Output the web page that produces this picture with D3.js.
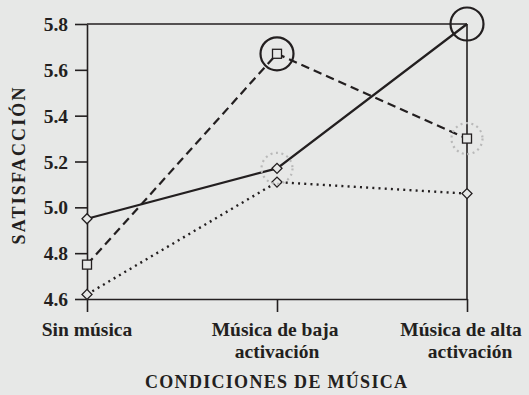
<!DOCTYPE html>
<html>
<head>
<meta charset="utf-8">
<script src="https://cdn.jsdelivr.net/npm/d3@7"></script>
<style>
  body { margin: 0; background: #e7e8e7; }
  svg { display: block; }
</style>
</head>
<body>
<div id="app"></div>
<script>
// data
const categories = ['Sin música', 'Música de baja activación', 'Música de alta activación']
const yTicks = [4.6, 4.8, 5.0, 5.2, 5.4, 5.6, 5.8]
const solidValues = [4.95, 5.17, 5.80]
const dashedValues = [4.75, 5.67, 5.30]
const dottedValues = [4.62, 5.11, 5.06]
// circled points: [series, category index]
const boldCircles = [['dashed', 1], ['solid', 2]]
const greyCircles = [['solid', 1], ['dashed', 2]]

const W = 529, H = 395
const FONT = '"Liberation Serif", "Times New Roman", serif'
const INK = '#231f20'
const BG = '#e7e8e7'
const svg = d3.select('#app').append('svg').attr('width', W).attr('height', H)

const x = d3.scalePoint().domain(categories).range([87, 467])
const y = d3.scaleLinear().domain([4.6, 5.8]).range([299, 24])

const series = {
  solid: { values: solidValues, dash: null, marker: 'diamond' },
  dashed: { values: dashedValues, dash: '8.5,5', marker: 'square' },
  dotted: { values: dottedValues, dash: '2,4.2', marker: 'diamond' }
}

const txt = sel => sel.style('font-family', FONT).style('font-weight', 'bold').attr('fill', INK)

// frame: top and right lines
svg.append('line').attr('x1', x.range()[0]).attr('x2', x.range()[1]).attr('y1', y(5.8)).attr('y2', y(5.8))
  .attr('stroke', INK).attr('stroke-width', 1.6)
svg.append('line').attr('x1', x.range()[1]).attr('x2', x.range()[1]).attr('y1', y(5.8)).attr('y2', y(4.6))
  .attr('stroke', INK).attr('stroke-width', 1.6)

// y axis
const yAxis = svg.append('g').attr('transform', 'translate(87,0)')
  .call(d3.axisLeft(y).tickValues(yTicks).tickFormat(d3.format('.1f')).tickSize(12).tickPadding(7).tickSizeOuter(0))
yAxis.select('.domain').attr('stroke', INK).attr('stroke-width', 1.6)
yAxis.selectAll('.tick line').attr('stroke', INK).attr('stroke-width', 1.6)
yAxis.selectAll('.tick text').call(txt).style('font-size', '19.5px').attr('dy', '0.34em')

// x axis
const xAxis = svg.append('g').attr('transform', 'translate(0,299)')
  .call(d3.axisBottom(x).tickSize(13).tickSizeOuter(0).tickFormat(''))
xAxis.select('.domain').attr('stroke', INK).attr('stroke-width', 1.6)
xAxis.selectAll('.tick line').attr('stroke', INK).attr('stroke-width', 1.6)

const xLabels = [
  { lines: ['Sin música'], dx: [0] },
  { lines: ['Música de baja', 'activación'], dx: [-2, 0] },
  { lines: ['Música de alta', 'activación'], dx: [-6, 3] }
]
categories.forEach((c, i) => {
  const t = svg.append('text').attr('text-anchor', 'middle').call(txt).style('font-size', '19.5px')
  xLabels[i].lines.forEach((ln, j) => {
    t.append('tspan').attr('x', x(c) + xLabels[i].dx[j]).attr('y', 336 + j * 22).text(ln)
  })
})

// axis titles
svg.append('text').attr('x', 276).attr('y', 388).attr('text-anchor', 'middle')
  .call(txt).style('font-size', '18px')
  .attr('textLength', 262).attr('lengthAdjust', 'spacing').text('CONDICIONES DE MÚSICA')
svg.append('text').attr('transform', 'translate(25,166) rotate(-90)').attr('text-anchor', 'middle')
  .call(txt).style('font-size', '18px')
  .attr('textLength', 157).attr('lengthAdjust', 'spacing').text('SATISFACCIÓN')

// lines
const line = d3.line().x((d, i) => x(categories[i])).y(d => y(d))
Object.entries(series).forEach(([k, s]) => {
  svg.append('path').datum(s.values).attr('d', line)
    .attr('fill', 'none').attr('stroke', INK)
    .attr('stroke-width', k === 'dotted' ? 2.4 : 2.2)
    .attr('stroke-dasharray', s.dash)
})

// markers
const diamond = d3.symbol().type(d3.symbolSquare).size(50)
Object.entries(series).forEach(([k, s]) => {
  s.values.forEach((v, i) => {
    if (k === 'solid' && i === 2) return
    const g = svg.append('g').attr('transform', `translate(${x(categories[i])},${y(v)})`)
    if (s.marker === 'diamond') {
      g.append('path').attr('d', diamond()).attr('transform', 'rotate(45)')
        .attr('fill', BG).attr('stroke', INK).attr('stroke-width', 1.3)
    } else {
      g.append('rect').attr('x', -4.5).attr('y', -4.5).attr('width', 9).attr('height', 9)
        .attr('fill', BG).attr('stroke', INK).attr('stroke-width', 1.3)
    }
  })
})

// highlight circles
boldCircles.forEach(([k, i]) => {
  svg.append('circle').attr('cx', x(categories[i])).attr('cy', y(series[k].values[i])).attr('r', 16.5)
    .attr('fill', 'none').attr('stroke', INK).attr('stroke-width', 2.2)
})
greyCircles.forEach(([k, i]) => {
  svg.append('circle').attr('cx', x(categories[i])).attr('cy', y(series[k].values[i])).attr('r', 15.5)
    .attr('fill', 'none').attr('stroke', '#b9b9b9').attr('stroke-width', 2.2).attr('stroke-dasharray', '2,3.5')
})
</script>
</body>
</html>
